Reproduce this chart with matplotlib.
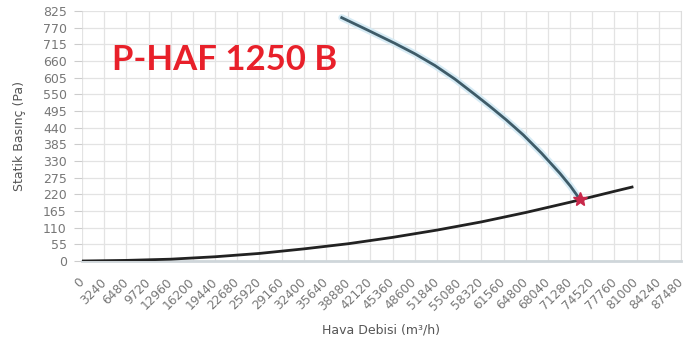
import matplotlib
matplotlib.use("Agg")
import matplotlib.pyplot as plt
import numpy as np

# Fan curve
fan_x = [37930, 41810, 45710, 48600, 51550, 54480, 57400, 59590, 62000, 64450, 67100, 69810, 71300, 72730]
fan_y = [803, 761, 718, 684, 645, 600, 549, 510, 465, 416, 356, 289, 248, 203]

# System curve
sys_x = [0, 6480, 12960, 19440, 25920, 32400, 38880, 45360, 51840, 58320, 64800, 71280, 74520, 77760, 80330]
sys_y = [0, 2, 6, 14, 25, 40, 57, 78, 102, 129, 160, 194, 212, 230, 244]

# Operating point
op_x = [72730]
op_y = [203]

x_ticks = list(range(0, 87481, 3240))
y_ticks = list(range(0, 826, 55))

fig = plt.figure(figsize=(6.93, 3.40), dpi=100)
ax = fig.add_axes([82/693, 1 - 261/340, (681 - 82)/693, (261 - 11)/340])

ax.set_xlim(0, 87480)
ax.set_ylim(0, 825)
ax.set_xticks(x_ticks)
ax.set_yticks(y_ticks)
ax.set_xticklabels([str(v) for v in x_ticks], rotation=45, ha='right', va='center',
                   rotation_mode='anchor', fontsize=8.8, color='#777777')
ax.set_yticklabels([str(v) for v in y_ticks], fontsize=9, color='#777777')
ax.grid(True, color='#e3e3e3', linewidth=0.9)
ax.set_axisbelow(True)
for s in ['top', 'left']:
    ax.spines[s].set_visible(False)
ax.spines['right'].set_color('#dddddd')
ax.spines['bottom'].set_color('#cfd6da')
ax.spines['bottom'].set_linewidth(2)
ax.tick_params(axis='y', length=6, color='#cccccc', pad=5)
ax.tick_params(axis='x', length=0, pad=14)

# glow for fan curve
ax.plot(fan_x, fan_y, color='#d6ebf5', linewidth=5, solid_capstyle='round',
        solid_joinstyle='round', zorder=2)
ax.plot(fan_x, fan_y, color='#3e5b68', linewidth=2, solid_joinstyle='round', zorder=3)
ax.plot(sys_x, sys_y, color='#222222', linewidth=2, zorder=3)
ax.plot(op_x, op_y, marker='*', markersize=10, color='#c8284a', zorder=4, linestyle='none')

ax.set_xlabel('Hava Debisi (m³/h)', fontsize=9, color='#555555', labelpad=8)
ax.set_ylabel('Statik Basınç (Pa)', fontsize=9, color='#555555', labelpad=12)

fig.text(112/693, 1 - 60/340, 'P-HAF 1250 B', fontsize=25, fontweight='bold',
         color='#e8202a', family='Lato', va='center', ha='left')

fig.savefig('out.png', dpi=100, facecolor='white')
